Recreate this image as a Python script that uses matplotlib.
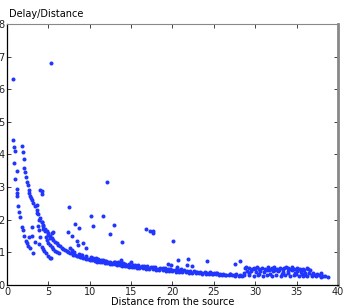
import matplotlib
matplotlib.use("Agg")
import matplotlib.pyplot as plt

# main (outer) curve
main_x = [1.8, 1.9, 2.0, 2.1, 2.2, 2.3, 2.4, 2.5, 2.6, 2.7, 2.8, 2.9, 3.0, 3.2, 3.4, 3.6, 3.8,
          4.0, 4.2, 4.4, 4.6, 4.8, 5.0, 5.2, 5.4, 5.6, 5.8, 6.0, 6.2, 6.4, 6.6, 6.8, 7.0, 7.2,
          7.4, 7.6, 7.8, 8.0, 8.2, 8.4, 8.6, 8.8, 9.0, 9.2, 9.4, 9.6, 9.8, 10.0, 10.3, 10.6,
          10.9, 11.2, 11.5, 11.8, 12.1, 12.4, 12.7, 13.0, 13.3, 13.6, 13.9, 14.2, 14.5, 14.8,
          15.1, 15.4, 15.7, 16.0, 16.4, 16.8, 17.2, 17.6, 18.0, 18.4, 18.8, 19.2, 19.6, 20.0,
          20.4, 20.8, 21.2, 21.6, 22.0, 22.4, 22.8, 23.2, 23.6, 24.0, 24.4, 24.8, 25.2, 25.6,
          26.0, 26.4, 26.8, 27.2, 27.6, 28.0, 28.4]
main_y = [4.27, 4.08, 3.86, 3.6, 3.45, 3.32, 3.15, 3.05, 2.92, 2.82, 2.74, 2.66, 2.62, 2.52,
          2.43, 2.3, 2.18, 2.05, 1.93, 1.82, 1.73, 1.65, 1.58, 1.5, 1.44, 1.38, 1.33, 1.28, 1.23,
          1.18, 1.14, 1.1, 1.07, 1.04, 1.01, 0.99, 0.97, 0.93, 0.92, 0.9, 0.88, 0.87, 0.85, 0.84,
          0.83, 0.81, 0.8, 0.78, 0.76, 0.74, 0.72, 0.71, 0.69, 0.68, 0.67, 0.65, 0.64, 0.63, 0.62,
          0.6, 0.59, 0.58, 0.57, 0.56, 0.55, 0.54, 0.53, 0.52, 0.51, 0.5, 0.49, 0.48, 0.47, 0.46,
          0.45, 0.44, 0.43, 0.42, 0.41, 0.4, 0.39, 0.385, 0.38, 0.37, 0.36, 0.355, 0.35, 0.34,
          0.335, 0.33, 0.325, 0.32, 0.31, 0.305, 0.3, 0.295, 0.29, 0.285, 0.28]

# upper edge of the thick band
band_x = [8.1, 8.7, 9.1, 9.5, 10.1, 10.4, 10.8, 11.3, 11.6, 12.0, 12.5, 12.9, 13.4, 13.8, 14.3,
          14.7, 15.2, 15.8, 16.3, 16.9, 17.4, 17.9, 18.5, 19.1, 19.7, 20.3, 20.9, 21.4, 22.1,
          22.6, 23.3, 23.9, 24.6, 25.3, 26.1, 26.9, 27.7]
band_y = [1.0, 0.95, 0.92, 0.88, 0.85, 0.84, 0.8, 0.78, 0.76, 0.74, 0.72, 0.7, 0.69, 0.67, 0.65,
          0.63, 0.62, 0.6, 0.58, 0.57, 0.55, 0.54, 0.53, 0.51, 0.49, 0.47, 0.46, 0.45, 0.43, 0.42,
          0.4, 0.39, 0.37, 0.36, 0.35, 0.34, 0.33]
band2_x = [10.2, 10.7, 11.0, 11.9, 13.1, 14.0, 15.5, 16.6, 17.7, 18.9, 19.4, 20.6, 21.8, 23.0,
           24.2, 25.0, 25.8, 27.0, 12.2, 12.8, 13.6, 14.6, 15.0, 16.1, 17.1, 18.2, 19.9, 21.1,
           22.9, 23.6, 24.9, 26.5, 27.4, 28.1]
band2_y = [0.83, 0.82, 0.79, 0.75, 0.71, 0.66, 0.61, 0.59, 0.56, 0.52, 0.5, 0.48, 0.44, 0.41,
           0.38, 0.37, 0.34, 0.33, 0.7, 0.68, 0.64, 0.6, 0.59, 0.55, 0.53, 0.5, 0.45, 0.43, 0.39,
           0.37, 0.35, 0.32, 0.31, 0.3]

# inner (left) curve
inner_x = [0.75, 0.8, 0.97, 0.85, 0.97, 1.17, 1.17, 1.25, 1.37, 1.45, 1.57, 1.77, 1.9, 2.05,
           2.3, 2.38, 2.58, 2.78, 3.2, 2.7, 2.98, 2.98, 3.38, 1.2]
inner_y = [4.45, 4.22, 4.12, 3.73, 3.24, 2.94, 2.81, 2.73, 2.43, 2.25, 2.08, 1.77, 1.69, 1.5,
           1.36, 1.28, 1.18, 1.14, 0.97, 1.46, 1.5, 1.77, 1.33, 3.5]

# cluster near x = 4
mid_x = [3.99, 4.19, 4.19, 3.59, 3.59, 3.9, 3.79, 3.9, 3.99, 3.9, 4.19, 4.31, 4.5, 4.71, 4.91,
         5.2, 5.3, 4.19, 4.4, 4.39, 4.59, 4.71, 4.8, 4.99, 5.2, 5.4, 5.6, 5.8, 6.0, 6.3, 5.0,
         5.4, 5.2, 5.52]
mid_y = [2.91, 2.89, 2.78, 2.2, 2.45, 1.99, 1.81, 1.69, 1.48, 1.25, 1.17, 1.09, 1.04, 0.97, 0.89,
         0.84, 0.82, 1.94, 1.84, 1.71, 1.64, 1.46, 1.38, 1.28, 1.22, 1.15, 1.1, 1.05, 1.02, 0.97,
         1.53, 1.58, 1.43, 1.62]

# scattered points
out_x = [0.75, 5.3, 7.53, 7.33, 7.81, 8.2, 8.74, 8.5, 8.62, 9.14, 9.51, 7.6, 7.9, 9.0, 10.15,
         10.35, 11.64, 12.12, 12.45, 12.97, 13.94, 13.82, 14.98, 16.8, 17.28, 17.6, 17.68, 20.1,
         19.5, 19.8, 20.5, 20.7, 21.0, 21.7, 21.9, 22.4, 24.2, 24.5, 25.4, 27.6, 28.2, 28.8]
out_y = [6.32, 6.81, 2.4, 1.62, 1.5, 1.87, 1.76, 1.35, 1.23, 1.3, 1.13, 1.13, 1.08, 0.92, 2.13,
         1.82, 2.1, 3.15, 1.55, 1.84, 1.32, 0.77, 0.7, 1.72, 1.65, 1.67, 1.6, 1.35, 0.64, 0.61,
         0.54, 0.76, 0.49, 0.61, 0.79, 0.59, 0.75, 0.41, 0.36, 0.63, 0.75, 0.53]

# right cluster
right_x = [28.9, 29.3, 29.6, 30.0, 30.4, 30.8, 31.2, 31.5, 31.9, 32.3, 32.6, 33.0, 33.3, 33.7,
           34.0, 34.4, 34.7, 35.1, 35.4, 35.8, 36.2, 36.6,
           29.0, 29.5, 30.1, 30.6, 31.1, 31.7, 32.2, 32.8, 33.4, 34.0, 34.5, 35.0, 35.5, 36.0,
           36.5, 37.0, 37.5, 38.0,
           28.7, 29.2, 29.8, 30.3, 30.9, 31.4, 32.0, 32.5, 33.1, 33.6, 34.2, 34.7, 35.3, 35.8,
           36.3, 36.9, 37.4, 37.9, 38.4, 38.8, 28.7, 29.2, 34.9, 35.6, 36.8, 37.7,
           29.8, 30.2, 31.4, 32.0, 32.9, 33.5, 34.3, 35.2, 35.9, 36.4, 30.5, 31.8, 33.2, 34.8,
           36.0, 37.2, 38.2, 32.4, 33.9, 35.5]
right_y = [0.55, 0.52, 0.5, 0.5, 0.48, 0.52, 0.5, 0.54, 0.5, 0.55, 0.49, 0.52, 0.5, 0.54, 0.52,
           0.55, 0.5, 0.53, 0.48, 0.5, 0.52, 0.47,
           0.42, 0.44, 0.4, 0.43, 0.41, 0.45, 0.42, 0.44, 0.4, 0.43, 0.45, 0.42, 0.4, 0.38, 0.36,
           0.37, 0.35, 0.36,
           0.3, 0.31, 0.29, 0.3, 0.28, 0.31, 0.29, 0.3, 0.28, 0.3, 0.29, 0.31, 0.28, 0.27, 0.29,
           0.27, 0.28, 0.26, 0.27, 0.26, 0.36, 0.38, 0.34, 0.33, 0.31, 0.3,
           0.53, 0.55, 0.47, 0.52, 0.47, 0.51, 0.49, 0.5, 0.45, 0.48, 0.34, 0.35, 0.33, 0.36,
           0.32, 0.31, 0.29, 0.47, 0.38, 0.44]

blue = '#2036ff'

fig = plt.figure(figsize=(3.46, 3.08), dpi=100)
ax = fig.add_axes([0.0202, 0.0747, 0.9567, 0.8474])

for xs, ys in [(main_x, main_y), (band_x, band_y), (band2_x, band2_y), (inner_x, inner_y),
               (mid_x, mid_y), (out_x, out_y), (right_x, right_y)]:
    ax.plot(xs, ys, 'o', color=blue, markersize=2.9, markeredgewidth=0, linestyle='none')

ax.set_xlim(0, 40)
ax.set_ylim(0, 8)
ax.set_xticks(range(0, 41, 5))
ax.set_yticks(range(0, 9))
ax.tick_params(direction='in', length=3, width=0.6, labelsize=7, pad=1.5,
               top=True, right=True, colors='#222222')
ax.spines['left'].set_linewidth(0.9)
ax.spines['bottom'].set_linewidth(0.9)
ax.spines['top'].set_color('#888888')
ax.spines['right'].set_color('#888888')
ax.spines['right'].set_linewidth(2)
ax.set_xlabel('Distance from the source', fontsize=7, labelpad=0)
fig.text(0.025, 0.97, 'Delay/Distance', fontsize=7, ha='left', va='top')

fig.savefig('out.png', dpi=100)
